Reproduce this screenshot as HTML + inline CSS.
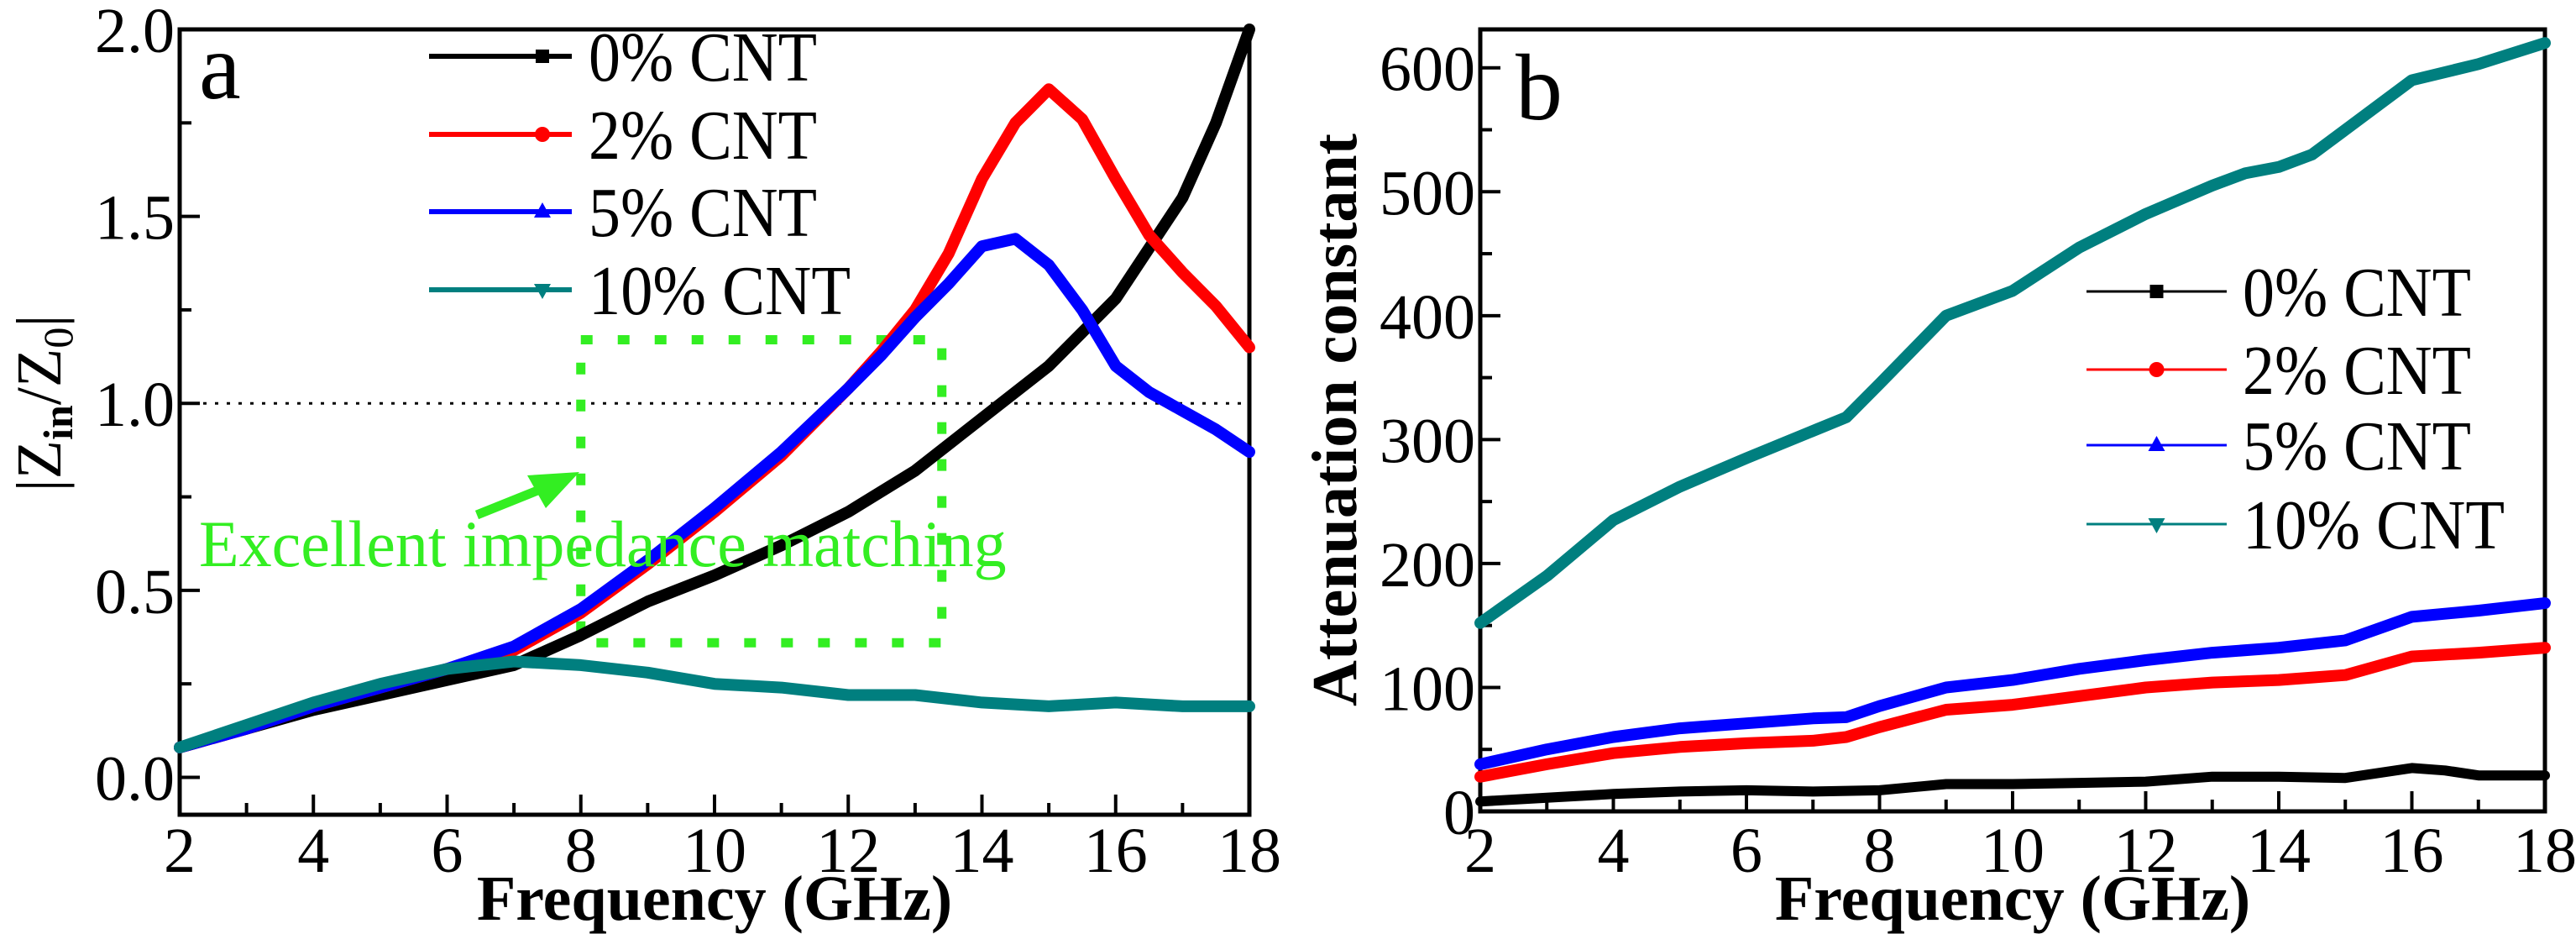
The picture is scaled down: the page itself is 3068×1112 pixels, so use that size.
<!DOCTYPE html>
<html><head><meta charset="utf-8">
<style>
html,body{margin:0;padding:0;background:#fff;}
svg{display:block;font-family:"Liberation Serif",serif;}
</style></head>
<body>
<svg id="fig" width="3068" height="1112" viewBox="0 0 3068 1112" xmlns="http://www.w3.org/2000/svg">
<g id="pa"></g>
<g id="pb"></g>
</svg>
<script>
// ---- Panel a data ----
const aX0 = [2,3,4,5,6,7,8,9,10,11,12,13,14,15,16,17,17.5,18];
const aY0 = [0.08,0.13,0.18,0.22,0.26,0.30,0.38,0.47,0.54,0.62,0.71,0.82,0.96,1.10,1.28,1.55,1.75,2.0];
const aX2 = [2,3,4,5,6,7,8,9,10,11,12,12.5,13,13.5,14,14.5,15,15.5,16,16.5,17,17.5,18];
const aY2 = [0.08,0.13,0.19,0.24,0.29,0.34,0.44,0.57,0.71,0.86,1.04,1.14,1.25,1.40,1.60,1.75,1.84,1.76,1.60,1.45,1.35,1.26,1.15];
const aX5 = [2,3,4,5,6,7,8,9,10,11,12,12.5,13,13.5,14,14.5,15,15.5,16,16.5,17,17.5,18];
const aY5 = [0.08,0.13,0.19,0.24,0.29,0.35,0.45,0.58,0.72,0.87,1.04,1.13,1.23,1.32,1.42,1.44,1.37,1.25,1.10,1.03,0.98,0.93,0.87];
const aX10 = [2,3,4,5,6,7,8,9,10,11,12,13,14,15,16,17,18];
const aY10 = [0.08,0.14,0.20,0.25,0.29,0.31,0.30,0.28,0.25,0.24,0.22,0.22,0.20,0.19,0.20,0.19,0.19];
const aYTicks = [0.0,0.5,1.0,1.5,2.0];
const xTicks = [2,4,6,8,10,12,14,16,18];
// ---- Panel b data ----
const bX0 = [2,3,4,5,6,7,8,9,10,11,12,13,14,15,16,16.5,17,18];
const bY0 = [8,11,14,16,17,16,17,22,22,23,24,28,28,27,35,33,29,29];
const bX = [2,3,4,5,6,7,7.5,8,9,10,11,12,13,14,15,16,17,18];
const bY2 = [28,38,47,52,55,57,60,68,82,86,93,100,104,106,110,125,128,132];
const bY5 = [38,50,60,67,71,75,76,85,100,106,115,122,128,132,138,157,162,168];
const bX10 = [2,3,4,5,6,7,7.5,8,9,10,11,12,13,13.5,14,14.5,15,16,17,18];
const bY10 = [152,190,235,262,285,307,318,345,400,420,455,482,505,515,520,530,550,590,603,620];
const bYTicks = [0,100,200,300,400,500,600];
const legendLabels = ["0% CNT","2% CNT","5% CNT","10% CNT"];
const colors = ["#000000","#ff0000","#0000ff","#007f7f"];

const NS="http://www.w3.org/2000/svg";
function mk(parent,tag,attrs,text){
  const e=document.createElementNS(NS,tag);
  for(const k in attrs) e.setAttribute(k,attrs[k]);
  if(text!==undefined) e.textContent=text;
  parent.appendChild(e); return e;
}
function panel(g,L,R,T,B,ymin,ymax,yTicks,yMinor,yFmt){
  const sx=v=>L+(v-2)/(18-2)*(R-L);
  const sy=v=>B-(v-ymin)/(ymax-ymin)*(B-T);
  for(let v=2;v<=18;v++){
    const major=(v%2===0);
    const t=mk(g,'line',{x1:sx(v),x2:sx(v),y1:B,y2:B-(major?24:14),stroke:'#000','stroke-width':4});
    
    
  }
  xTicks.forEach(v=>{
    const t=mk(g,'text',{x:sx(v),y:1038,'font-size':76,'text-anchor':'middle'},String(v));
    
    
  });
  for(let v=yTicks[0];v<=ymax+1e-9;v+=yMinor){
    if(sy(v)>B+1) continue;
    const isMajor=yTicks.some(m=>Math.abs(m-v)<1e-6);
    const t=mk(g,'line',{x1:L,x2:L+(isMajor?24:14),y1:sy(v),y2:sy(v),stroke:'#000','stroke-width':4});
    
    
  }
  yTicks.forEach(v=>{
    const t=mk(g,'text',{x:L-6,y:sy(v)+27,'font-size':76,'text-anchor':'end'},yFmt(v));
    
    
  });
  const fr=mk(g,'rect',{x:L,y:T,width:R-L,height:B-T,fill:'none',stroke:'#000','stroke-width':5});
  
  
  const xt=mk(g,'text',{x:(L+R)/2,y:1095,'font-size':76,'font-weight':'bold','text-anchor':'middle'},'Frequency (GHz)');
  
  
  return {sx,sy};
}
function series(g,xs,ys,sx,sy,color,w,name){
  const pts=xs.map((x,i)=>sx(x).toFixed(1)+','+sy(ys[i]).toFixed(1)).join(' ');
  const p=mk(g,'polyline',{points:pts,fill:'none',stroke:color,'stroke-width':w,'stroke-linejoin':'round','stroke-linecap':'round'});
  
  
}
function marker(g,i,cx,cy,color){
  let e;
  if(i===0) e=mk(g,'rect',{x:cx-8,y:cy-8,width:16,height:16,fill:color});
  else if(i===1) e=mk(g,'circle',{cx:cx,cy:cy,r:9,fill:color});
  else if(i===2) e=mk(g,'polygon',{points:`${cx},${cy-11} ${cx-10},${cy+7} ${cx+10},${cy+7}`,fill:color});
  else e=mk(g,'polygon',{points:`${cx},${cy+11} ${cx-10},${cy-7} ${cx+10},${cy-7}`,fill:color});
  
  
}
function legend(g,x1,x2,tx,rows,lw){
  const widths=[272,272,272,312];
  rows.forEach((y,i)=>{
    const l=mk(g,'line',{x1:x1,x2:x2,y1:y,y2:y,stroke:colors[i],'stroke-width':lw});
    
    
    marker(g,i,(x1+x2)/2+(lw>4?50:0),y,colors[i]);
    const t=mk(g,'text',{x:tx,y:y+29,'font-size':84,textLength:widths[i],lengthAdjust:'spacingAndGlyphs'},legendLabels[i]);
    
    
  });
}

// Panel a
const ga=document.getElementById('pa');
const A=panel(ga,214,1488,35,970,-0.1,2.0,aYTicks,0.25,v=>v.toFixed(1));
const dl=mk(ga,'line',{x1:214,x2:1488,y1:A.sy(1.0),y2:A.sy(1.0),stroke:'#000','stroke-width':3,'stroke-dasharray':'4 10'});


const box=mk(ga,'rect',{x:A.sx(8),y:A.sy(1.17),width:A.sx(13.4)-A.sx(8),height:A.sy(0.36)-A.sy(1.17),fill:'none',stroke:'#33ee22','stroke-width':11,'stroke-dasharray':'14 30'});


series(ga,aX0,aY0,A.sx,A.sy,colors[0],14,'series-0-cnt');
series(ga,aX2,aY2,A.sx,A.sy,colors[1],14,'series-2-cnt');
series(ga,aX5,aY5,A.sx,A.sy,colors[2],14,'series-5-cnt');
series(ga,aX10,aY10,A.sx,A.sy,colors[3],14,'series-10-cnt');
const arr=mk(ga,'g',{});


mk(arr,'line',{x1:568,y1:613,x2:650,y2:580,stroke:'#33ee22','stroke-width':11});
mk(arr,'polygon',{points:'690,562 628,566 650,605',fill:'#33ee22'});
const ann=mk(ga,'text',{x:237,y:674,'font-size':78,fill:'#33ee22'},'Excellent impedance matching');


const la=mk(ga,'text',{x:237,y:117,'font-size':112},'a');


legend(ga,511,681,701,[67,160,252,345],6);
const yta=mk(ga,'text',{transform:'translate(72,480) rotate(-90)','font-size':76,'text-anchor':'middle'});


yta.innerHTML='|Z<tspan font-size="50" dy="14" font-weight="bold">in</tspan><tspan dy="-14">/Z</tspan><tspan font-size="50" dy="14">0</tspan><tspan dy="-14">|</tspan>';

// Panel b
const gb=document.getElementById('pb');
const Bp=panel(gb,1763,3031,35,966,0,631,bYTicks,50,v=>String(v));
series(gb,bX0,bY0,Bp.sx,Bp.sy,colors[0],12,'series-0-cnt');
series(gb,bX,bY2,Bp.sx,Bp.sy,colors[1],14,'series-2-cnt');
series(gb,bX,bY5,Bp.sx,Bp.sy,colors[2],14,'series-5-cnt');
series(gb,bX10,bY10,Bp.sx,Bp.sy,colors[3],14,'series-10-cnt');
const lb=mk(gb,'text',{x:1805,y:142,'font-size':112},'b');


legend(gb,2485,2652,2671,[347,440,530,624],3);
const ytb=mk(gb,'text',{transform:'translate(1615,500) rotate(-90)','font-size':76,'font-weight':'bold','text-anchor':'middle'},'Attenuation constant');


</script>
</body></html>
